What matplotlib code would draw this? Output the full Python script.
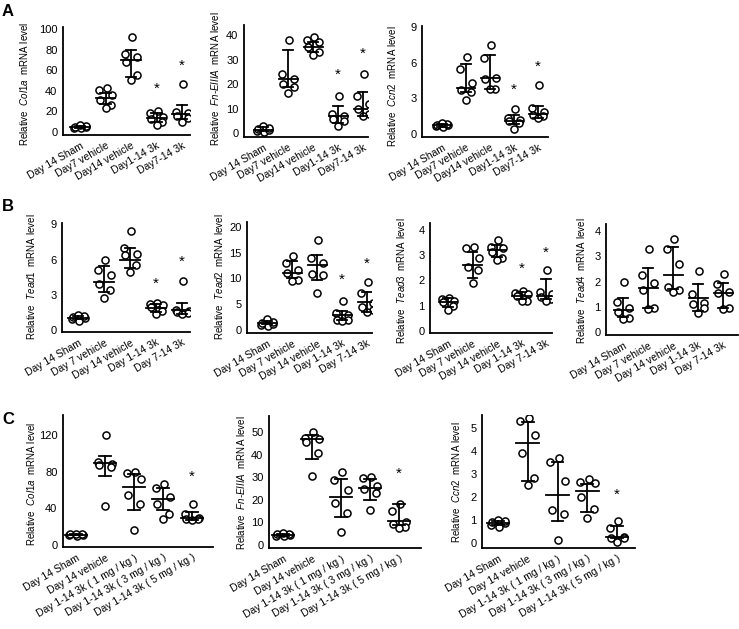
import matplotlib
matplotlib.use("Agg")
import matplotlib.pyplot as plt

plt.rcParams['font.family'] = ['Liberation Sans', 'DejaVu Sans']
plt.rcParams['mathtext.fontset'] = 'custom'
plt.rcParams['mathtext.rm'] = 'Liberation Sans'
plt.rcParams['mathtext.it'] = 'Liberation Sans:italic'

W, H = 739, 629

# ---------------- categories ----------------
groups_a = ['Day 14 Sham', 'Day7 vehicle', 'Day14 vehicle', 'Day1-14 3k', 'Day7-14 3k']
groups_b = ['Day 14 Sham', 'Day 7 vehicle', 'Day 14 vehicle', 'Day 1-14 3k', 'Day 7-14 3k']
groups_c = ['Day 14 Sham', 'Day 14 vehicle', 'Day 1-14 3k ( 1 mg / kg )',
            'Day 1-14 3k ( 3 mg / kg )', 'Day 1-14 3k ( 5 mg / kg )']

# ---------------- data: A ----------------
a_col1a_pts = [[3.5, 4, 5, 5, 6, 6.5], [43, 41, 36, 31, 26, 23], [92, 76, 73, 68, 55, 50],
               [20, 18, 15, 13, 10, 7], [47, 19, 18, 16, 14, 10]]
a_col1a_mid = [5, 33, 70, 14, 17]
a_col1a_low = [4, 27, 53, 10, 13]
a_col1a_high = [6, 38, 80, 18, 26]
a_col1a_star = [None, None, None, 42, 64]

a_fn_pts = [[0.5, 0.8, 1.2, 1.6, 2.2, 3.0], [38, 24, 22, 20, 19, 16.5], [39, 38, 37, 35, 33, 32],
            [15, 8, 7, 6, 5, 3], [24, 15, 12, 10, 8, 7]]
a_fn_mid = [1.5, 22, 35, 7, 10]
a_fn_low = [0.8, 19, 33, 4, 7]
a_fn_high = [2.5, 34, 37, 11, 17]
a_fn_star = [None, None, None, 24, 32.5]

a_ccn2_pts = [[0.6, 0.7, 0.75, 0.8, 0.85, 0.95], [6.5, 5.5, 4.3, 3.7, 3.55, 2.9],
              [7.5, 6.35, 4.75, 4.6, 3.75, 3.75], [2.1, 1.35, 1.2, 1.1, 0.98, 0.42],
              [4.1, 2.2, 1.9, 1.6, 1.5, 1.4]]
a_ccn2_mid = [0.75, 3.85, 4.7, 1.1, 1.7]
a_ccn2_low = [0.65, 3.5, 3.75, 0.9, 1.4]
a_ccn2_high = [0.9, 5.9, 6.6, 1.6, 2.4]
a_ccn2_star = [None, None, None, 3.75, 5.65]

# ---------------- data: B ----------------
b_tead1_pts = [[0.8, 0.9, 1.0, 1.1, 1.2, 1.3], [6.0, 5.1, 4.7, 3.9, 3.4, 2.7],
               [8.4, 7.0, 6.45, 6.4, 5.5, 4.9], [2.3, 2.2, 2.1, 2.0, 1.6, 1.4],
               [4.2, 1.7, 1.6, 1.5, 1.45, 1.4]]
b_tead1_mid = [1.0, 4.05, 6.0, 1.9, 1.7]
b_tead1_low = [0.9, 3.25, 5.3, 1.5, 1.4]
b_tead1_high = [1.2, 5.45, 7.0, 2.2, 2.3]
b_tead1_star = [None, None, None, 3.9, 5.8]

b_tead2_pts = [[0.8, 1.0, 1.2, 1.4, 1.6, 2.2], [14.4, 12.9, 11.6, 11.0, 9.7, 9.5],
               [17.4, 13.9, 12.9, 10.8, 10.6, 7.1], [5.6, 3.2, 2.9, 2.0, 1.9, 1.8],
               [9.2, 7.1, 5.2, 4.5, 3.9, 3.5]]
b_tead2_mid = [1.4, 11.0, 12.6, 2.9, 5.5]
b_tead2_low = [1.1, 10.0, 9.7, 1.9, 3.5]
b_tead2_high = [1.8, 13.4, 14.6, 3.7, 7.3]
b_tead2_star = [None, None, None, 9.7, 12.9]

b_tead3_pts = [[1.3, 1.25, 1.2, 1.15, 1.0, 0.85], [3.34, 3.27, 2.88, 2.55, 2.42, 1.89],
               [3.6, 3.34, 3.27, 3.14, 2.88, 2.8], [1.6, 1.5, 1.45, 1.4, 1.2, 1.2],
               [2.4, 1.55, 1.45, 1.35, 1.25, 1.2]]
b_tead3_mid = [1.15, 2.6, 3.2, 1.4, 1.4]
b_tead3_low = [0.95, 2.1, 2.95, 1.25, 1.25]
b_tead3_high = [1.3, 3.14, 3.4, 1.55, 2.05]
b_tead3_star = [None, None, None, 2.45, 3.1]

b_tead4_pts = [[2.0, 1.2, 0.95, 0.8, 0.55, 0.5], [3.3, 2.25, 1.95, 1.65, 0.95, 0.9],
               [3.7, 3.3, 2.7, 1.8, 1.65, 1.6], [2.4, 1.5, 1.15, 1.1, 0.95, 0.75],
               [2.3, 1.9, 1.6, 1.55, 0.95, 0.9]]
b_tead4_mid = [0.88, 1.75, 2.25, 1.35, 1.55]
b_tead4_low = [0.6, 0.95, 1.7, 0.85, 0.95]
b_tead4_high = [1.34, 2.55, 3.35, 1.9, 1.95]
b_tead4_star = [None, None, None, None, None]

# ---------------- data: C ----------------
c_col1a_pts = [[10, 10.5, 11, 11.5, 12, 12.5], [120, 91, 88, 87, 85.5, 42.5],
               [80, 79, 72, 55, 45, 16], [67, 62, 52, 45, 34, 28], [45, 34, 30, 28, 28, 27]]
c_col1a_mid = [11, 90, 63.5, 50, 30]
c_col1a_low = [10.5, 75, 38, 38, 27]
c_col1a_high = [12, 97, 77.5, 62, 36]
c_col1a_star = [None, None, None, None, 74]

c_fn_pts = [[3.8, 4.2, 4.5, 4.8, 5.0, 5.5], [50.3, 47.3, 47, 45.9, 40.7, 30.6],
            [32.5, 28.8, 24.4, 18.5, 14.3, 5.9], [30.3, 29.6, 26.2, 24.7, 22.9, 15.5],
            [18.2, 15.2, 10.4, 9.3, 8.1, 7.4]]
c_fn_mid = [4.5, 47, 21.4, 25.1, 10.8]
c_fn_low = [4.2, 38, 12.3, 20, 8.9]
c_fn_high = [5.0, 49, 29.1, 29.3, 18.2]
c_fn_star = [None, None, None, None, 31.5]

c_ccn2_pts = [[0.7, 0.8, 0.85, 0.9, 0.95, 1.0], [5.4, 5.29, 4.7, 3.9, 2.83, 2.5],
              [3.7, 3.5, 2.69, 1.43, 1.24, 0.13], [2.77, 2.63, 2.59, 2.0, 1.47, 1.07],
              [0.95, 0.66, 0.27, 0.23, 0.2, 0.06]]
c_ccn2_mid = [0.87, 4.32, 2.08, 2.25, 0.27]
c_ccn2_low = [0.8, 2.69, 0.95, 1.36, 0.2]
c_ccn2_high = [0.95, 5.26, 3.53, 2.57, 0.75]
c_ccn2_star = [None, None, None, None, 2.08]

# horizontal jitter pattern (fraction of group spacing)
jitter = [0.05, -0.25, 0.25, -0.2, 0.22, 0.0]

fig = plt.figure(figsize=(W / 100, H / 100), dpi=100)


def panel(spec, groups, pts, mid, low, high, star, yticks, gene, ylab_xy):
    left, right, top, bottom, y0px, ytv, ytpx, x0px, dxpx = spec
    ax = fig.add_axes([left / W, 1 - bottom / H, (right - left) / W, (bottom - top) / H])
    ppu = (y0px - ytpx) / ytv
    ax.set_ylim(-(bottom - y0px) / ppu, (y0px - top) / ppu)
    ax.set_xlim((left - x0px) / dxpx, (right - x0px) / dxpx)
    for i, vals in enumerate(pts):
        xs = [i + jitter[k % len(jitter)] for k in range(len(vals))]
        ax.scatter(xs, vals, s=26, facecolor='white', edgecolor='black', linewidth=1.1, zorder=3)
        ax.plot([i, i], [low[i], high[i]], color='black', lw=1.3, zorder=4)
        ax.plot([i - 0.2, i + 0.2], [low[i], low[i]], color='black', lw=1.3, zorder=4)
        ax.plot([i - 0.2, i + 0.2], [high[i], high[i]], color='black', lw=1.3, zorder=4)
        ax.plot([i - 0.38, i + 0.38], [mid[i], mid[i]], color='black', lw=1.3, zorder=4)
        if star[i] is not None:
            ax.text(i, star[i], '*', ha='center', va='center', fontsize=11, zorder=5)
    for s in ['top', 'right']:
        ax.spines[s].set_visible(False)
    for s in ['left', 'bottom']:
        ax.spines[s].set_linewidth(1.3)
    ax.set_yticks(yticks)
    ax.set_yticklabels([str(t) for t in yticks], fontsize=8)
    ax.set_xticks(range(len(groups)))
    ax.set_xticklabels(groups, rotation=30, ha='right', rotation_mode='anchor', fontsize=7.5)
    ax.tick_params(axis='both', length=0)
    ax.tick_params(axis='y', pad=4)
    ax.tick_params(axis='x', pad=4)
    lx, ly = ylab_xy
    fig.text(lx / W, 1 - ly / H, 'Relative  $\\mathit{' + gene + '}$  mRNA level',
             rotation=90, ha='center', va='center', fontsize=7)
    return ax


panel((63, 190, 27, 135, 132, 100, 29, 80, 25.5), groups_a, a_col1a_pts, a_col1a_mid,
      a_col1a_low, a_col1a_high, a_col1a_star, [0, 20, 40, 60, 80, 100], 'Col1a', (24, 84))
panel((244, 368, 25, 137, 133.3, 40, 35, 263, 25), groups_a, a_fn_pts, a_fn_mid,
      a_fn_low, a_fn_high, a_fn_star, [0, 10, 20, 30, 40], 'Fn}$-$\\mathit{EIIIA', (215, 79))
panel((422, 548, 26, 137, 134.3, 9, 26.7, 442, 24), groups_a, a_ccn2_pts, a_ccn2_mid,
      a_ccn2_low, a_ccn2_high, a_ccn2_star, [0, 3, 6, 9], 'Ccn2', (392, 86))

panel((62, 190, 223, 332, 330, 9, 224.3, 78, 26), groups_b, b_tead1_pts, b_tead1_mid,
      b_tead1_low, b_tead1_high, b_tead1_star, [0, 3, 6, 9], 'Tead1', (31, 277))
panel((247, 372, 222, 333, 330, 20, 226.7, 267, 25), groups_b, b_tead2_pts, b_tead2_mid,
      b_tead2_low, b_tead2_high, b_tead2_star, [0, 5, 10, 15, 20], 'Tead2', (219, 277))
panel((430, 552, 223, 333, 331, 4, 230, 448, 24.5), groups_b, b_tead3_pts, b_tead3_mid,
      b_tead3_low, b_tead3_high, b_tead3_star, [0, 1, 2, 3, 4], 'Tead3', (401, 281))
panel((606, 738, 224, 335, 332, 4, 231, 623, 25), groups_b, b_tead4_pts, b_tead4_mid,
      b_tead4_low, b_tead4_high, b_tead4_star, [0, 1, 2, 3, 4], 'Tead4', (581, 281))

panel((63, 213, 415, 547, 545, 120, 435, 76, 29), groups_c, c_col1a_pts, c_col1a_mid,
      c_col1a_low, c_col1a_high, c_col1a_star, [0, 40, 80, 120], 'Col1a', (31, 484))
panel((269, 421, 416, 548, 545, 50, 432.3, 283, 29), groups_c, c_fn_pts, c_fn_mid,
      c_fn_low, c_fn_high, c_fn_star, [0, 10, 20, 30, 40, 50], 'Fn}$-$\\mathit{EIIIA', (241, 483))
panel((482, 635, 415, 548, 543, 5, 427.7, 498, 29.75), groups_c, c_ccn2_pts, c_ccn2_mid,
      c_ccn2_low, c_ccn2_high, c_ccn2_star, [0, 1, 2, 3, 4, 5], 'Ccn2', (456, 482))

for letter, y in [('A', 12), ('B', 207), ('C', 419)]:
    fig.text(2 / W, 1 - y / H, letter, fontsize=12, fontweight='bold', ha='left', va='center')

fig.savefig('out.png', dpi=100)
